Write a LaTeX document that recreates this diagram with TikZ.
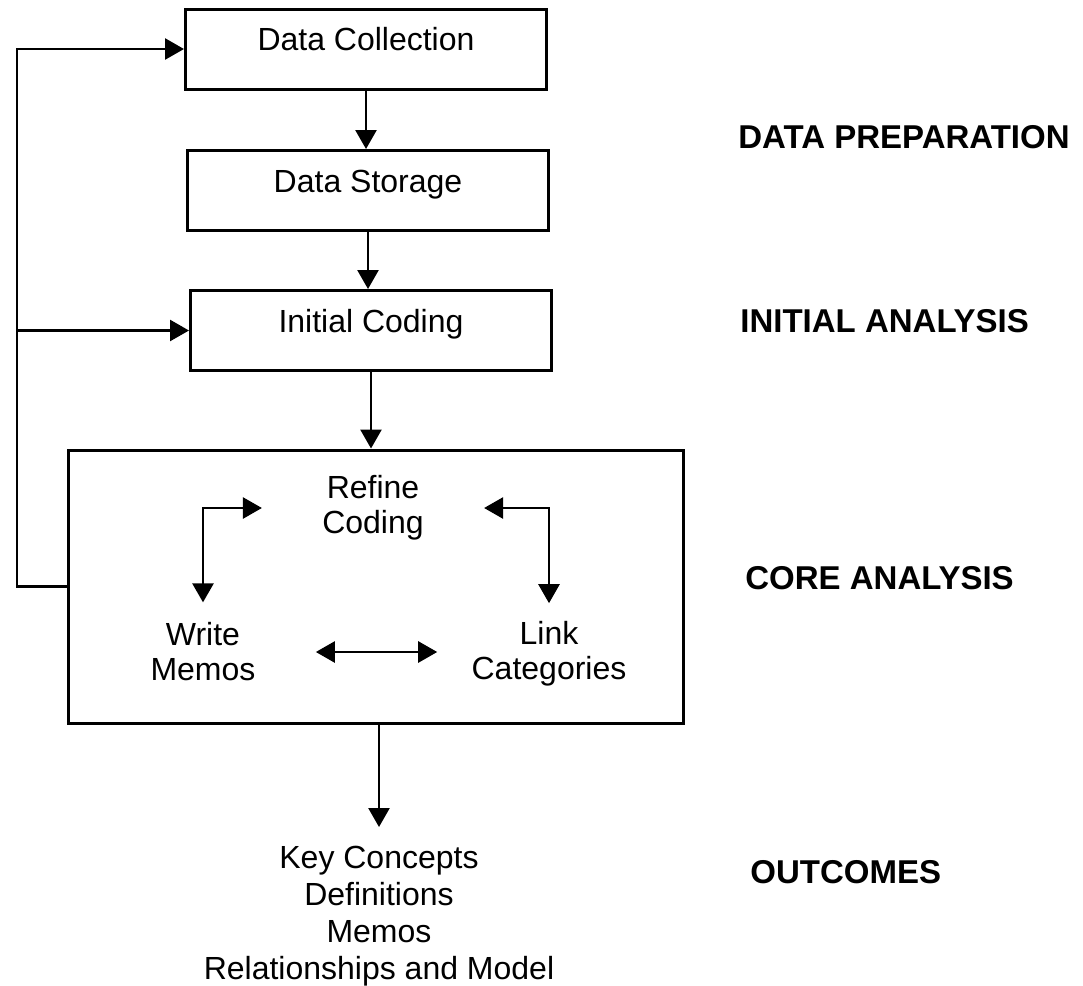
\documentclass[tikz,border=0pt]{standalone}
\usepackage{fontspec}
\setmainfont{Liberation Sans}
\usetikzlibrary{arrows.meta}

\begin{document}
\begin{tikzpicture}[x=0.5pt,y=-0.5pt,
  every node/.style={font=\fontsize{16pt}{17.5pt}\selectfont},
  stepbox/.style={draw, line width=1.5pt, minimum width=180.5pt, minimum height=40pt,
    inner sep=0pt, text height=11.5pt, text depth=10pt},
  corebox/.style={draw, line width=1.5pt, minimum width=307.5pt, minimum height=136.5pt, inner sep=0pt},
  item/.style={align=center, inner sep=0pt},
  phase/.style={anchor=west, inner sep=0pt, font=\bfseries\fontsize{16.5pt}{19pt}\selectfont},
  link/.style={line width=1.3pt},
  tip/.tip={Triangle[length=9.5pt,width=10.5pt]},
  flow/.style={link, -tip},
  both/.style={link, tip-tip},
]
% canvas
\path[fill=white, use as bounding box] (0,0) rectangle (1083,986);

% main chain of steps
\node[stepbox] (dc) at (366,49) {Data Collection};
\node[stepbox] (ds) at (368,190.5) {Data Storage};
\node[stepbox] (ic) at (371,330.5) {Initial Coding};
\node[corebox] (core) at (375.5,586.5) {};

% activities inside the core analysis box
\node[item] (rc) at (373,508) {Refine\\Coding};
\node[item] (wm) at (203,652) {Write\\Memos};
\node[item] (lk) at (549,654) {Link\\Categories};

% results
\node[item, anchor=north, outer ysep=9.5pt, font=\fontsize{16pt}{18.5pt}\selectfont] (out) at (379,827)
  {Key Concepts\\Definitions\\Memos\\Relationships and Model};

% phase labels
\node[phase] (p1) at (738,137) {DATA PREPARATION};
\node[phase] (p2) at (740,321) {INITIAL ANALYSIS};
\node[phase] (p3) at (745,578) {CORE ANALYSIS};
\node[phase] (p4) at (750,872) {OUTCOMES};

% downward flow
\draw[flow] (dc.south) -- (dc.south |- ds.north);
\draw[flow] (ds.south) -- (ds.south |- ic.north);
\draw[flow] (ic.south) -- (ic.south |- core.north);
\draw[flow] (core.south -| out.north) -- (out.north);

% feedback loop on the left
\coordinate (rail) at (17,586.5);
\draw[flow] (core.west) -- (rail) |- (dc.west);
\draw[flow] (rail |- ic.west) -- (ic.west);

% two-way links between the activities
\draw[both, shorten <=10pt, shorten >=30pt] (wm.north) |- (rc.west);
\draw[both, shorten <=30pt, shorten >=9pt] (rc.east) -| (lk.north);
\draw[both, shorten <=30pt, shorten >=17pt] (wm.east) -- (wm.east -| lk.west);
\end{tikzpicture}
\end{document}
